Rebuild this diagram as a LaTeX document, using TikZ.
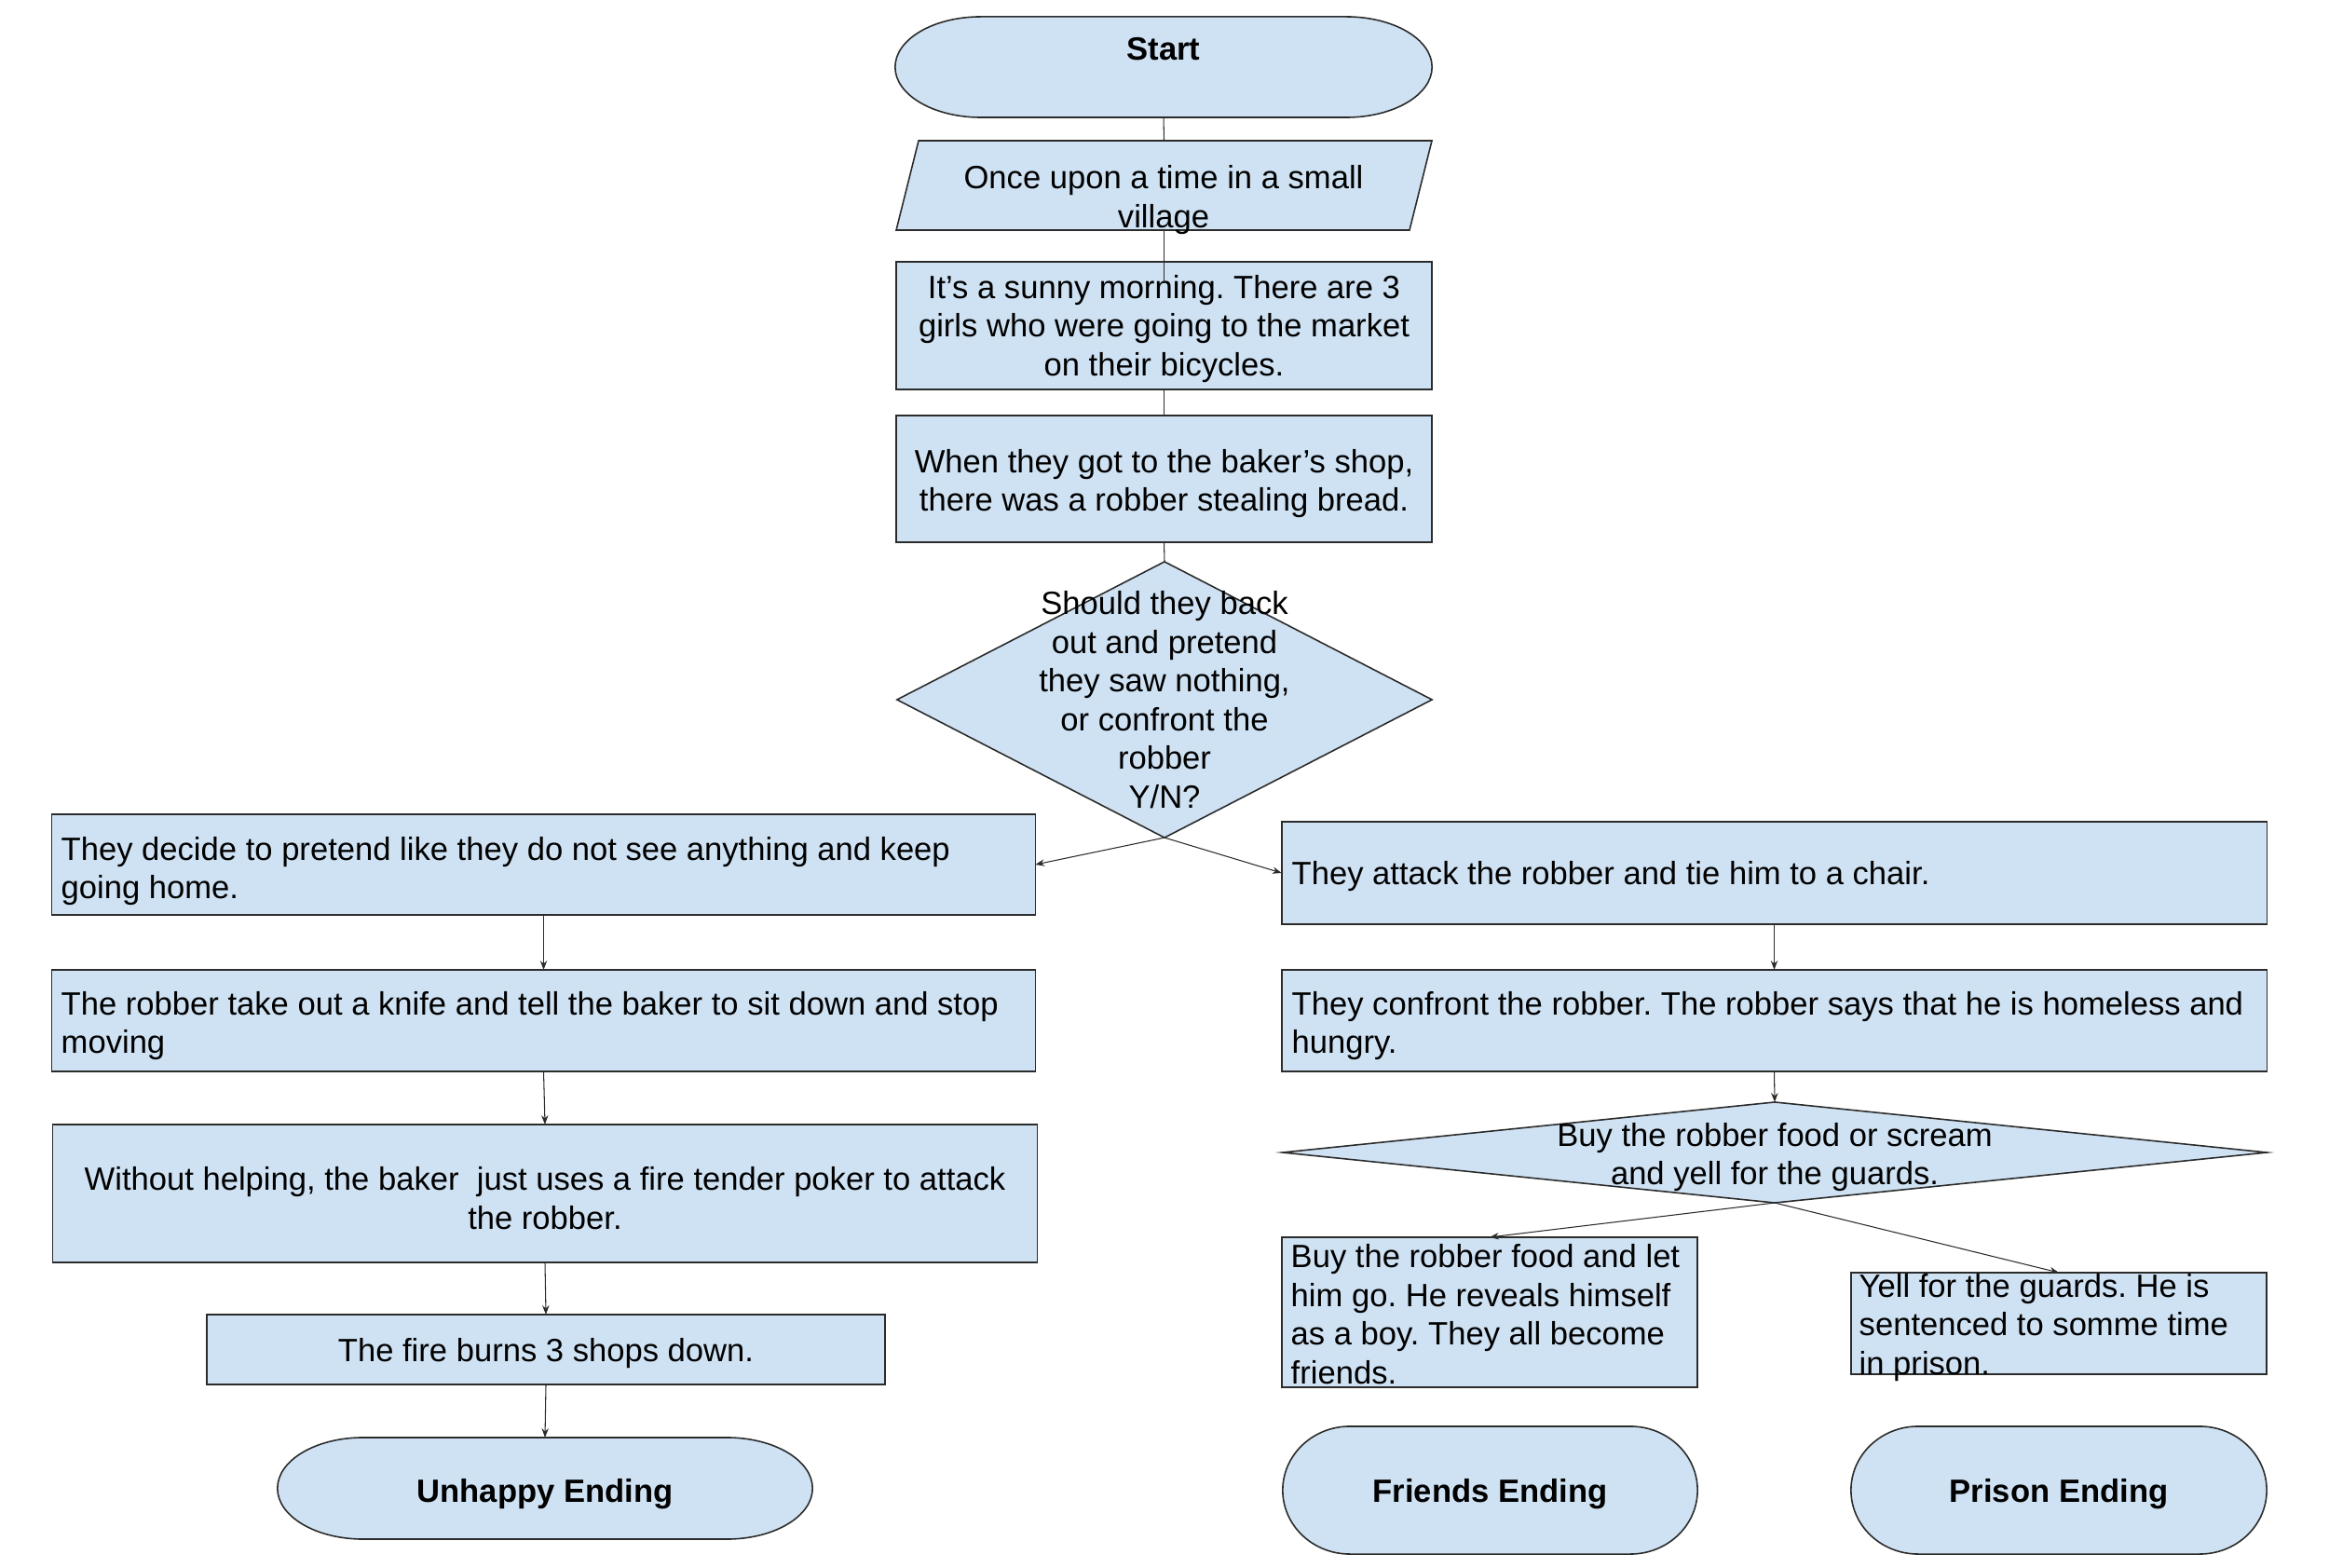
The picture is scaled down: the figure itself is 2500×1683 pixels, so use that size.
\documentclass[tikz,border=0pt]{standalone}
\usepackage{fontspec}
\setmainfont{Liberation Sans}
\usetikzlibrary{shapes.geometric,arrows.meta,calc}
\definecolor{boxfill}{HTML}{CFE2F3}
\definecolor{edgecol}{HTML}{2B2B2B}
\frenchspacing
\tikzset{
  shapebox/.style={draw=edgecol, fill=boxfill, line width=0.45pt, inner sep=0pt, outer sep=0pt},
  rectbox/.style={shapebox, rectangle},
  decision/.style={shapebox, diamond},
  anchorbox/.style={rectangle, inner sep=0pt, outer sep=0pt},
  txt/.style={font=\fontsize{9.84pt}{11.8pt}\selectfont, inner sep=0pt, align=center, yshift=-0.04cm},
  ltxt/.style={txt, align=left, anchor=west},
  btxt/.style={txt, font=\fontsize{9.84pt}{11.8pt}\selectfont\bfseries},
  link/.style={draw=edgecol, line width=0.3pt},
  arrowlink/.style={link, -{Stealth[length=2.8pt,width=2.1pt]}},
}
\newcommand\termpath[3]{%
  \filldraw[shapebox] ($(#1.north west)+(#2,0)$) -- ($(#1.north east)+(-#2,0)$)
    arc[start angle=90,end angle=-90,x radius=#2,y radius=#3]
    -- ($(#1.south west)+(#2,0)$)
    arc[start angle=270,end angle=90,x radius=#2,y radius=#3] -- cycle;}
\begin{document}
\begin{tikzpicture}[x=0.01cm,y=-0.01cm]
\path[use as bounding box] (0,0) rectangle (2500,1683);

% ---- centre column ----
\node[anchorbox, minimum width=5.76cm, minimum height=1.08cm] (start) at (1249,72) {};
\termpath{start}{0.92cm}{0.54cm}
\node[btxt] (startT) at (1249,49) {Start};

\node[anchorbox, minimum width=5.75cm, minimum height=0.96cm] (para) at (1249.5,199) {};
\filldraw[shapebox] (986,151) -- (1537,151) -- (1513,247) -- (962,247) -- cycle;
\node[txt] (paraT) at (1249,210.5) {Once upon a time in a small\\village};

\node[rectbox, minimum width=5.75cm, minimum height=1.37cm] (box3) at (1249.5,349.5) {};
\node[txt] (box3T) at (1249.5,349) {It’s a sunny morning. There are 3\\girls who were going to the market\\on their bicycles.};

\node[rectbox, minimum width=5.75cm, minimum height=1.36cm] (box4) at (1249.5,514) {};
\node[txt] (box4T) at (1249.5,515) {When they got to the baker’s shop,\\there was a robber stealing bread.};

\node[decision, minimum width=5.74cm, minimum height=2.96cm] (d1) at (1250,751) {};
\node[txt] (d1T) at (1250,747) {Should they back\\out and pretend\\they saw nothing,\\or confront the\\robber\\Y/N?};

% ---- left column ----
\node[rectbox, minimum width=10.55cm, minimum height=1.08cm] (L1) at (583.5,928) {};
\node[ltxt] (L1T) at (65,931) {They decide to pretend like they do not see anything and keep\\going home.};

\node[rectbox, minimum width=10.55cm, minimum height=1.09cm] (L2) at (583.5,1095.5) {};
\node[ltxt] (L2T) at (65,1097) {The robber take out a knife and tell the baker to sit down and stop\\moving};

\node[rectbox, minimum width=10.56cm, minimum height=1.48cm] (L3) at (585,1281) {};
\node[txt] (L3T) at (585,1282) {Without helping, the baker\ \ just uses a fire tender poker to attack\\the robber.};

\node[rectbox, minimum width=7.28cm, minimum height=0.75cm] (L4) at (586,1448.5) {};
\node[txt] (L4T) at (586,1449) {The fire burns 3 shops down.};

\node[anchorbox, minimum width=5.74cm, minimum height=1.09cm] (L5) at (585,1597.5) {};
\termpath{L5}{0.92cm}{0.545cm}
\node[btxt] (L5T) at (585,1600) {Unhappy Ending};

% ---- right column ----
\node[rectbox, minimum width=10.57cm, minimum height=1.10cm] (R1) at (1904.5,937) {};
\node[ltxt] (R1T) at (1386,937) {They attack the robber and tie him to a chair.};

\node[rectbox, minimum width=10.57cm, minimum height=1.09cm] (R2) at (1904.5,1095.5) {};
\node[ltxt] (R2T) at (1386,1097) {They confront the robber. The robber says that he is homeless and\\hungry.};

\node[decision, minimum width=10.56cm, minimum height=1.08cm] (d2) at (1905,1237) {};
\node[txt] (d2T) at (1905,1238) {Buy the robber food or scream\\and yell for the guards.};

\node[rectbox, minimum width=4.46cm, minimum height=1.61cm] (R3a) at (1599,1408.5) {};
\node[ltxt] (R3aT) at (1385,1406.5) {Buy the robber food and let\\him go. He reveals himself\\as a boy. They all become\\friends.};

\node[rectbox, minimum width=4.46cm, minimum height=1.09cm] (R3b) at (2210,1420.5) {};
\node[ltxt] (R3bT) at (1995,1421) {Yell for the guards. He is\\sentenced to somme time\\in prison.};

\node[anchorbox, minimum width=4.45cm, minimum height=1.37cm] (Fend) at (1599.5,1599.5) {};
\termpath{Fend}{0.72cm}{0.685cm}
\node[btxt] (FendT) at (1599.5,1600) {Friends Ending};

\node[anchorbox, minimum width=4.46cm, minimum height=1.37cm] (Pend) at (2210,1599.5) {};
\termpath{Pend}{0.72cm}{0.685cm}
\node[btxt] (PendT) at (2210,1600) {Prison Ending};

% ---- connectors ----
\coordinate (paraEnd) at (1249.5,302);
\draw[link] (start.south) -- (para.north);
\draw[link] (para.south) -- (paraEnd);
\draw[link] (box3.south) -- (box4.north);
\draw[link] (box4.south) -- (d1.north);
\draw[arrowlink] (d1.south) -- (L1.east);
\draw[arrowlink] (d1.south) -- (R1.west);
\draw[arrowlink] (L1.south) -- (L2.north);
\draw[arrowlink] (L2.south) -- (L3.north);
\draw[arrowlink] (L3.south) -- (L4.north);
\draw[arrowlink] (L4.south) -- (L5.north);
\draw[arrowlink] (R1.south) -- (R2.north);
\draw[arrowlink] (R2.south) -- (d2.north);
\draw[arrowlink] (d2.south) -- (R3a.north);
\draw[arrowlink] (d2.south) -- (R3b.north);
\end{tikzpicture}
\end{document}
